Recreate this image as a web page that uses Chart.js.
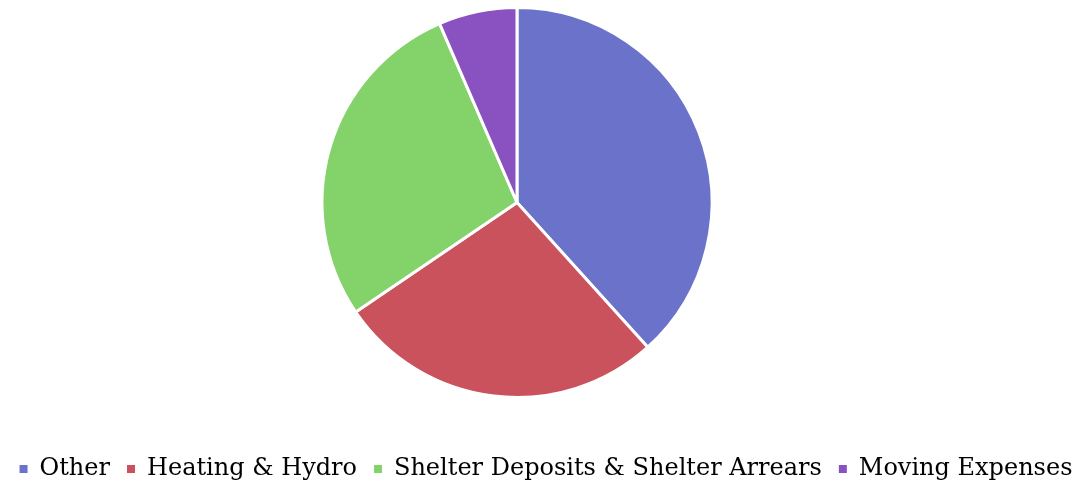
<!DOCTYPE html>
<html>
<head>
<meta charset="utf-8">
<script src="https://cdn.jsdelivr.net/npm/chart.js@4.4.1/dist/chart.umd.min.js"></script>
<style>
  html, body { margin: 0; padding: 0; background: #fff; }
  #wrap { width: 1092px; height: 491px; }
</style>
</head>
<body>
<div id="wrap"><canvas id="pieChart"></canvas></div>
<script>
const categories = ['Other', 'Heating & Hydro', 'Shelter Deposits & Shelter Arrears', 'Moving Expenses'];
const shares = [38.3, 27.2, 28.0, 6.5];
const sliceColors = ['#6b72c9', '#c9525c', '#84d26a', '#8a52c0'];

// pie is not centred on the canvas in the original, nudge the area left
const shiftPie = {
  id: 'shiftPie',
  afterLayout(chart) {
    const a = chart.chartArea;
    a.left -= 29;
    a.right -= 29;
    a.top = 6;
    a.bottom = 399;
    a.width = a.right - a.left;
    a.height = a.bottom - a.top;
  }
};

const pieCanvas = document.querySelector('#pieChart');

const pieChart = new Chart(pieCanvas, {
  type: 'pie',
  data: {
    labels: categories,
    datasets: [{
      data: shares,
      backgroundColor: sliceColors,
      borderColor: '#ffffff',
      borderWidth: 3
    }]
  },
  options: {
    responsive: true,
    maintainAspectRatio: false,
    animation: false,
    layout: { padding: { top: 6, bottom: 0 } },
    plugins: {
      legend: {
        position: 'bottom',
        labels: {
          boxWidth: 8,
          boxHeight: 8,
          padding: 17,
          color: '#3a3a3a',
          font: { family: 'DejaVu Serif', size: 24 },
          generateLabels(chart) {
            return categories.map((c, i) => ({
              text: c,
              fillStyle: sliceColors[i],
              strokeStyle: sliceColors[i],
              lineWidth: 0,
              index: i,
              hidden: false
            }));
          }
        }
      },
      tooltip: { enabled: false }
    }
  },
  plugins: [shiftPie]
});
</script>
</body>
</html>
